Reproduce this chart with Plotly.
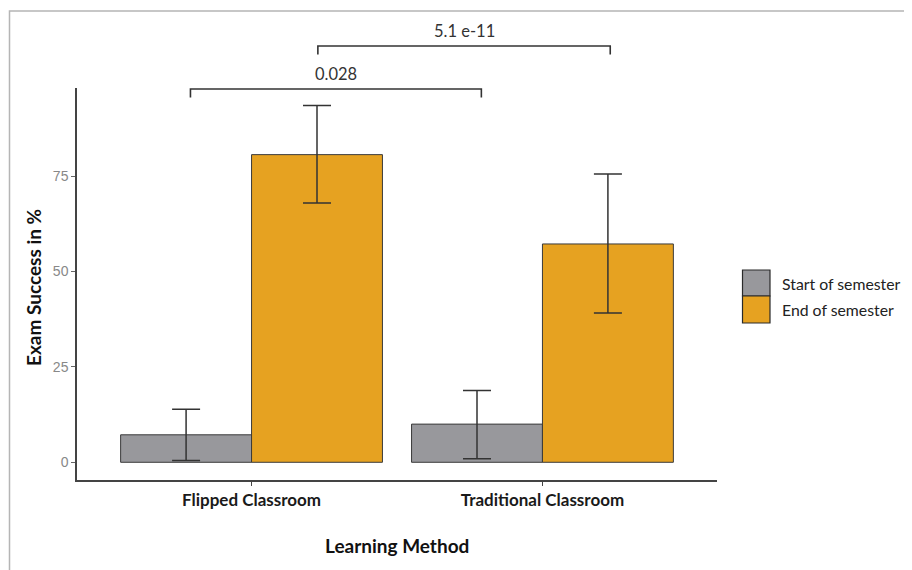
import plotly.graph_objects as go

# ---- data ----
methods = ["Flipped Classroom", "Traditional Classroom"]
series_names = ["Start of semester", "End of semester"]
start_mean = [7.2, 10.0]
start_low = [0.5, 0.9]
start_high = [13.9, 18.8]
end_mean = [80.6, 57.2]
end_low = [67.9, 39.1]
end_high = [93.5, 75.5]
y_ticks = [0, 25, 50, 75]
p_labels = ["0.028", "5.1 e-11"]

colors = ["#98989c", "#e6a221"]
edge = "#3a3a3a"

fig = go.Figure()
for name, mean, lo, hi, col in [
    (series_names[0], start_mean, start_low, start_high, colors[0]),
    (series_names[1], end_mean, end_low, end_high, colors[1]),
]:
    fig.add_trace(go.Bar(
        x=methods, y=mean, name=name,
        marker=dict(color=col, line=dict(color=edge, width=1)),
        error_y=dict(type="data", symmetric=False,
                     array=[h - m for h, m in zip(hi, mean)],
                     arrayminus=[m - l for m, l in zip(mean, lo)],
                     color="#333333", thickness=1.5, width=14),
        showlegend=False,
    ))

OFF = 8  # page body margin
W, H = 912 - OFF, 570 - OFF
L, T = 77 - OFF, 88 - OFF
R, B = 195, 90
pw, ph = W - L - R, H - T - B

def px(x):
    return (x - OFF - L) / pw

def py(y):
    return (T + ph - (y - OFF)) / ph

shapes = []
annotations = []

# outer border
shapes.append(dict(type="rect", xref="paper", yref="paper",
                   x0=px(9.5), x1=px(940), y0=py(600), y1=py(11),
                   line=dict(color="#b5b5b5", width=1.5), fillcolor="rgba(0,0,0,0)"))

# significance brackets (start bars, then end bars)
half = 0.225
brackets = [
    (0 - half + 0.015, 1 - half + 0.015, 89, 97.5, p_labels[0], 74),
    (0 + half + 0.003, 1 + half + 0.008, 46, 54.5, p_labels[1], 31),
]
for x0, x1, ytop, ybot, lab, ytxt in brackets:
    shapes.append(dict(type="path", xref="x", yref="paper",
                       path=f"M {x0},{py(ybot)} L {x0},{py(ytop)} L {x1},{py(ytop)} L {x1},{py(ybot)}",
                       line=dict(color="#333333", width=1.6)))
    annotations.append(dict(x=(x0 + x1) / 2, y=py(ytxt), xref="x", yref="paper",
                            text=lab, showarrow=False, xanchor="center", yanchor="middle",
                            font=dict(family="Lato", size=16.5, color="#333333")))

# manual legend
leg = [(270, 296, colors[0], series_names[0]), (296, 323, colors[1], series_names[1])]
for y0, y1, col, name in leg:
    shapes.append(dict(type="rect", xref="paper", yref="paper",
                       x0=px(742.5), x1=px(770), y0=py(y1), y1=py(y0),
                       fillcolor=col, line=dict(color="#2a2a2a", width=1.2)))
    annotations.append(dict(x=px(780), y=py((y0 + y1) / 2), xref="paper", yref="paper",
                            text=name, showarrow=False, xanchor="left", yanchor="middle",
                            font=dict(family="Lato", size=15.8, color="#222222")))

# axis titles
annotations.append(dict(x=px(33), y=py(288), xref="paper", yref="paper",
                        text="<b>Exam Success in %</b>", textangle=-90, showarrow=False,
                        xanchor="center", yanchor="middle",
                        font=dict(family="Lato", size=19, color="#111111")))
annotations.append(dict(x=px(397), y=py(545), xref="paper", yref="paper",
                        text="<b>Learning Method</b>", showarrow=False,
                        xanchor="center", yanchor="middle",
                        font=dict(family="Lato", size=19, color="#111111")))

fig.update_layout(
    width=W, height=H,
    margin=dict(l=L, r=R, t=T, b=B, pad=0),
    paper_bgcolor="white", plot_bgcolor="white",
    barmode="group", bargap=0.1, bargroupgap=0,
    shapes=shapes, annotations=annotations,
    showlegend=False,
    xaxis=dict(range=[-0.6, 1.6], showline=True, linecolor="#444444", linewidth=1.5,
               ticks="outside", ticklen=4, tickcolor="#444444", tickwidth=1,
               tickfont=dict(family="Lato", size=17, color="#1a1a1a", weight="bold"),
               showgrid=False, zeroline=False),
    yaxis=dict(range=[-4.64, 98.06], showline=True, linecolor="#444444", linewidth=1.5,
               ticks="outside", ticklen=4, tickcolor="#666666", tickwidth=1,
               tickvals=y_ticks, ticktext=[str(v) for v in y_ticks],
               tickfont=dict(family="Liberation Sans", size=14, color="#888888"),
               showgrid=False, zeroline=False),
)

fig.write_html("out.html")
